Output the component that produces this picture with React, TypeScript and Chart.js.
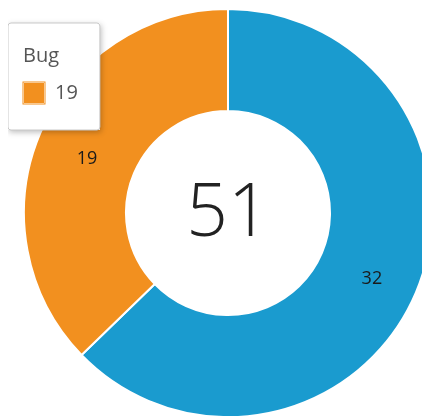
import React, { useEffect, useRef } from "react";
import { Chart, registerables, Tooltip } from "chart.js";

Chart.register(...registerables);

const labels = ["Feature", "Bug"];
const values = [32, 19];
const colors = ["#1a9bcf", "#f2901f"];
const totalLabel = "51";
const activeIndex = 1;

(Tooltip.positioners as any).fixedTopLeft = function () {
  return { x: 3, y: 15 };
};

const FONT = "'Open Sans', 'Noto Sans', sans-serif";

const centerTextPlugin = {
  id: "centerText",
  afterDatasetsDraw(chart: any) {
    const meta = chart.getDatasetMeta(0);
    const arc = meta.data[0];
    if (!arc) return;
    const { ctx } = chart;
    ctx.save();
    ctx.fillStyle = "#222";
    ctx.font = `300 73px ${FONT}`;
    ctx.textAlign = "center";
    ctx.textBaseline = "middle";
    ctx.fillText(totalLabel, arc.x, arc.y + 2);
    ctx.font = `400 18px ${FONT}`;
    ctx.fillStyle = "#1a1a1a";
    meta.data.forEach((el: any, i: number) => {
      const p = el.tooltipPosition();
      const dx = p.x - arc.x;
      ctx.fillText(String(values[i]), p.x + (dx > 0 ? 3 : 0), p.y + 6);
    });
    ctx.restore();
  },
  beforeTooltipDraw(chart: any) {
    const tt = chart.tooltip;
    if (!tt || !tt.opacity) return;
    const { ctx } = chart;
    ctx.save();
    ctx.shadowColor = "rgba(0,0,0,0.28)";
    ctx.shadowBlur = 6;
    ctx.shadowOffsetX = 1;
    ctx.shadowOffsetY = 2;
    ctx.fillStyle = "#fff";
    ctx.fillRect(tt.x, tt.y, tt.width, tt.height);
    ctx.restore();
  },
};

export default function App() {
  const ref = useRef<HTMLCanvasElement | null>(null);
  useEffect(() => {
    if (!ref.current) return;
    const chart = new Chart(ref.current, {
      type: "doughnut",
      data: {
        labels,
        datasets: [
          {
            data: values,
            backgroundColor: colors,
            borderColor: "#ffffff",
            borderWidth: 2,
            hoverOffset: 0,
          },
        ],
      },
      options: {
        responsive: false,
        animation: false,
        cutout: "50%",
        events: [],
        layout: { padding: 0 },
        plugins: {
          legend: { display: false },
          tooltip: {
            enabled: true,
            position: "fixedTopLeft" as any,
            xAlign: "left",
            yAlign: "top",
            caretSize: 0,
            caretPadding: 0,
            cornerRadius: 3,
            backgroundColor: "#ffffff",
            borderColor: "#c9c9c9",
            borderWidth: 1,
            titleColor: "#555555",
            bodyColor: "#555555",
            titleFont: { family: FONT, size: 20, weight: "normal" as any },
            bodyFont: { family: FONT, size: 20, weight: "normal" as any },
            titleMarginBottom: 13,
            padding: { top: 21, bottom: 25, left: 15, right: 22 } as any,
            boxWidth: 22,
            boxHeight: 22,
            boxPadding: 8,
            displayColors: true,
            callbacks: {
              title: (items: any[]) => (items.length ? labels[items[0].dataIndex] : ""),
              label: (item: any) => String(values[item.dataIndex]),
              labelColor: (item: any) => ({
                borderColor: colors[item.dataIndex],
                backgroundColor: colors[item.dataIndex],
                borderWidth: 1,
              }),
            },
          },
        },
      },
      plugins: [centerTextPlugin],
    });
    chart.tooltip?.setActiveElements([{ datasetIndex: 0, index: activeIndex }], { x: 0, y: 0 });
    chart.update();
    return () => chart.destroy();
  }, []);
  return (
    <div style={{ width: 422, height: 410, overflow: "hidden" }}>
      <canvas ref={ref} width={440} height={410} style={{ display: "block", width: 440, height: 410 }} />
    </div>
  );
}
